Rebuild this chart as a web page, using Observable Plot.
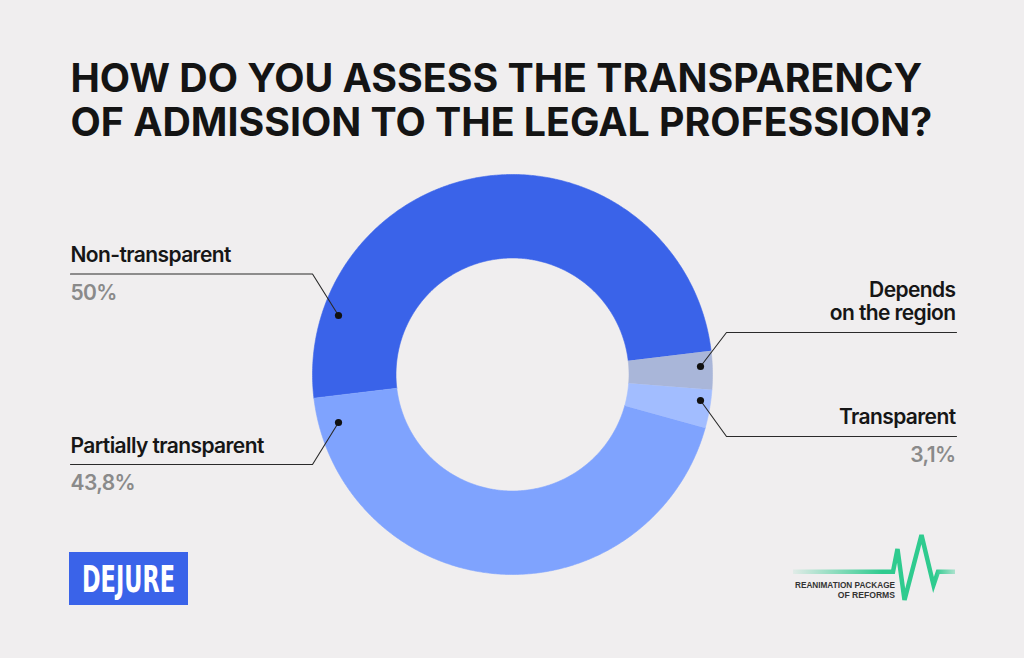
<!DOCTYPE html>
<html><head><meta charset="utf-8">
<script src="https://cdn.jsdelivr.net/npm/d3@7"></script>
<script src="https://cdn.jsdelivr.net/npm/@observablehq/plot@0.6"></script>
<style>
html,body{margin:0;padding:0;background:#f0eeef;}
#wrap{position:relative;width:1024px;height:658px;overflow:hidden;font-family:Inter,sans-serif;}
#wrap svg{position:absolute;left:0;top:0;}
</style></head><body><div id="wrap"></div>
<script>
// ---- data ----
const categories = ["Non-transparent", "Depends on the region", "Transparent", "Partially transparent"];
const values = [50, 3.1, 3.1, 43.8];
const valueLabels = ["50%", "", "3,1%", "43,8%"];
const nameLabels = ["Non-transparent", "Depends\non the region", "Transparent", "Partially transparent"];
const colors = ["#3a63e9", "#a9b6d9", "#a2bdff", "#7fa3fe"];
const titleLines = ["HOW DO YOU ASSESS THE TRANSPARENCY", "OF ADMISSION TO THE LEGAL PROFESSION?"];

// ---- layout ----
const W = 1024, H = 658, cx = 512, cy = 374, rOuter = 200, rInner = 116.5;
const startAngle = -96.8 * Math.PI / 180;
// callout layout per category (pixels)
const callouts = [
  {side: "left",  tx: 70,  nameY: 261, valueY: 299, lineY: 273.5, lineEnd: 312, dot: [338, 315]},
  {side: "right", tx: 955, nameY: 319.5, valueY: null, lineY: 332, lineEnd: 726, dot: [700, 366]},
  {side: "right", tx: 955, nameY: 423.5, valueY: 461.5, lineY: 436, lineEnd: 726, dot: [700, 400]},
  {side: "left",  tx: 70,  nameY: 452, valueY: 489, lineY: 464, lineEnd: 312, dot: [338, 422]}
];

const rows = categories.map((c, i) => ({category: c, value: values[i]}));
const pie = d3.pie().sort(null).value(d => d.value).startAngle(startAngle).endAngle(startAngle + 2 * Math.PI);
const arcs = pie(rows);
const slicePts = [];
arcs.forEach(a => {
  const n = Math.max(8, Math.ceil((a.endAngle - a.startAngle) / (Math.PI / 360)));
  for (let k = 0; k <= n; k++) {
    const t = a.startAngle + (a.endAngle - a.startAngle) * k / n;
    slicePts.push({category: a.data.category, x: cx + rOuter * Math.sin(t), y: cy - rOuter * Math.cos(t)});
  }
  for (let k = n; k >= 0; k--) {
    const t = a.startAngle + (a.endAngle - a.startAngle) * k / n;
    slicePts.push({category: a.data.category, x: cx + rInner * Math.sin(t), y: cy - rInner * Math.cos(t)});
  }
});

const leaderPts = [], dots = [], leftTexts = [], rightTexts = [];
categories.forEach((c, i) => {
  const L = callouts[i];
  const far = L.side === "left" ? L.tx : L.tx + 1;
  leaderPts.push({category: c, x: far, y: L.lineY});
  leaderPts.push({category: c, x: L.lineEnd, y: L.lineY});
  leaderPts.push({category: c, x: L.dot[0], y: L.dot[1]});
  dots.push({category: c, x: L.dot[0], y: L.dot[1]});
  const target = L.side === "left" ? leftTexts : rightTexts;
  target.push({x: L.tx, y: L.nameY, text: nameLabels[i], fill: "#161616"});
  if (valueLabels[i]) target.push({x: L.tx, y: L.valueY, text: valueLabels[i], fill: "#8a8a8a"});
});
const titleRows = titleLines.map((t, i) => ({text: t, x: 70, y: 91 + i * 44.3}));

const labelOpts = {x: "x", y: "y", text: "text", lineAnchor: "bottom", lineHeight: 1.08,
  fontSize: 21, fontWeight: 600, fill: "fill", fontFamily: "Inter"};

const chart = Plot.plot({
  width: W, height: H, margin: 0,
  x: {domain: [0, W], range: [0, W], axis: null},
  y: {domain: [0, H], range: [0, H], axis: null},
  color: {domain: categories, range: colors},
  style: {background: "transparent", fontFamily: "Inter, sans-serif"},
  marks: [
    Plot.line(slicePts, {x: "x", y: "y", z: "category", fill: "category", stroke: "category", strokeWidth: 0.6}),
    Plot.line(leaderPts, {x: "x", y: "y", z: "category", stroke: "#2a2a2a", strokeWidth: 1.1}),
    Plot.dot(dots, {x: "x", y: "y", r: 3.6, fill: "#111", stroke: null}),
    Plot.text(leftTexts, {...labelOpts, textAnchor: "start"}),
    Plot.text(rightTexts, {...labelOpts, textAnchor: "end"}),
    Plot.text(titleRows, {x: "x", y: "y", text: "text", textAnchor: "start", lineAnchor: "bottom",
      fontSize: 39.3, fontWeight: 700, fill: "#141414", fontFamily: "Inter"})
  ]
});
d3.select(chart).selectAll('g[font-size="21"] text').attr("letter-spacing", "-0.6");
const wrap = document.getElementById("wrap");
wrap.appendChild(chart);

const logos = `<svg width="${W}" height="${H}" xmlns="http://www.w3.org/2000/svg">
<defs><linearGradient id="hb" gradientUnits="userSpaceOnUse" x1="793" y1="0" x2="955" y2="0">
<stop offset="0" stop-color="#2fcb8f" stop-opacity="0.08"/><stop offset="0.55" stop-color="#2fcb8f" stop-opacity="1"/>
<stop offset="0.88" stop-color="#2fcb8f" stop-opacity="1"/><stop offset="1" stop-color="#2fcb8f" stop-opacity="0.35"/></linearGradient></defs>
<rect x="69" y="552" width="119" height="53" fill="#3a63e9"/>
<text x="128.5" y="591.5" text-anchor="middle" font-family="DejaVu Sans Condensed" font-weight="bold" font-size="37" fill="#fff" textLength="93" lengthAdjust="spacingAndGlyphs">DEJURE</text>
<polyline points="793,571.7 893,571.7 897.5,549 904.5,600 921.5,535 933.5,585 938,571.7 955,571.7" fill="none" stroke="url(#hb)" stroke-width="4.5" stroke-linejoin="miter"/>
<text x="895" y="587.8" text-anchor="end" font-family="Liberation Sans" font-weight="bold" font-size="8.6" fill="#333" textLength="100" lengthAdjust="spacingAndGlyphs">REANIMATION PACKAGE</text>
<text x="895" y="598" text-anchor="end" font-family="Liberation Sans" font-weight="bold" font-size="8.6" fill="#333">OF REFORMS</text>
</svg>`;
wrap.insertAdjacentHTML("beforeend", logos);
</script></body></html>
